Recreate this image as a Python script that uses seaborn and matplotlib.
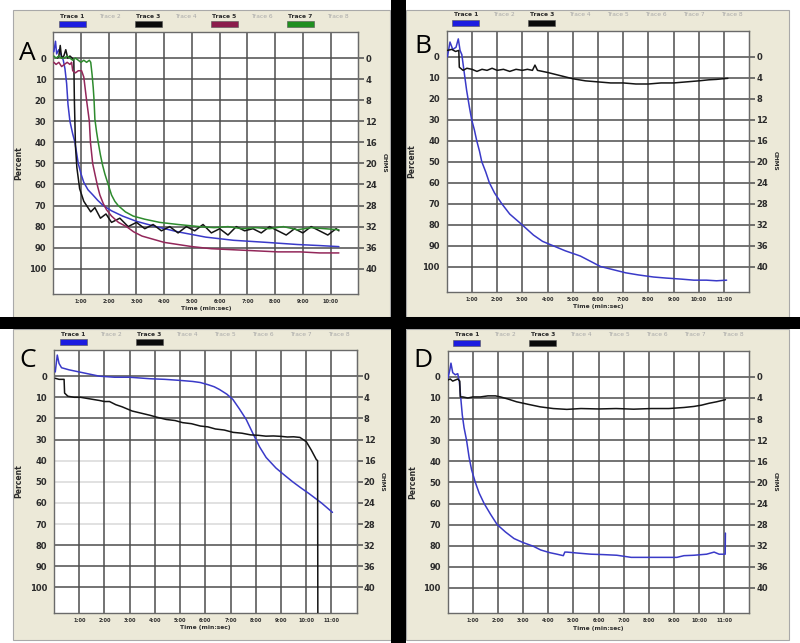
import matplotlib
matplotlib.use("Agg")
import matplotlib.pyplot as plt
from matplotlib.patches import Rectangle
import numpy as np
import pandas as pd
import seaborn as sns

W, H = 800, 643

# ---- values (time in minutes, signal in percent) ----
pct_ticks = [0, 10, 20, 30, 40, 50, 60, 70, 80, 90, 100]
ohm_ticks = [0, 4, 8, 12, 16, 20, 24, 28, 32, 36, 40]
time_labels = ["1:00", "2:00", "3:00", "4:00", "5:00", "6:00",
               "7:00", "8:00", "9:00", "10:00", "11:00"]

# panel A
a_blue_t = [0.02, 0.08, 0.12, 0.20, 0.30, 0.36, 0.42, 0.48, 0.53, 0.60, 0.70, 0.78, 0.90, 1.00, 1.10,
            1.25, 1.43, 1.60, 1.80, 2.10, 2.50, 3.00, 3.70, 4.50, 5.50, 6.50, 7.70, 8.80, 9.60, 10.30]
a_blue_p = [-3, -8, -2, -4, -1, 1, 5, 12, 22, 30, 36, 40, 50, 55, 59,
            62.5, 65, 67.5, 70, 72.5, 75, 77.5, 80, 82.5, 85, 86.5, 87.5, 88.5, 89, 89.5]
a_black_t = [0.15, 0.20, 0.25, 0.30, 0.38, 0.45, 0.52, 0.60, 0.68, 0.74, 0.76, 0.80, 0.85, 0.90, 0.95,
             1.00, 1.10, 1.20, 1.35, 1.50, 1.70, 1.90, 2.10, 2.40, 2.70, 3.00, 3.30, 3.60, 3.90, 4.20,
             4.50, 4.80, 5.10, 5.40, 5.70, 6.00, 6.30, 6.60, 6.90, 7.20, 7.50, 7.80, 8.10, 8.40, 8.70,
             9.00, 9.30, 9.60, 9.90, 10.20, 10.30]
a_black_p = [0, -1, -6, 0, -1, -4, 0, -1, 0, 1, 20, 42, 52, 57, 62,
             64, 68, 70, 73, 71, 76, 74, 78, 76, 80, 78, 81, 79, 82, 80,
             83, 80, 82, 79, 83, 81, 84, 80, 82, 81, 83, 80, 82, 84, 81,
             83, 80, 82, 84, 81, 82]
a_red_t = [0.02, 0.10, 0.20, 0.30, 0.40, 0.50, 0.60, 0.66, 0.70, 0.80, 0.90, 1.02, 1.10, 1.20, 1.30,
           1.34, 1.42, 1.50, 1.60, 1.68, 1.80, 1.92, 2.10, 2.35, 2.64, 2.90, 3.20, 3.60, 4.00, 4.50,
           5.00, 5.70, 6.50, 7.30, 8.10, 8.90, 9.60, 10.30]
a_red_p = [2, 3, 2, 4, 3, 2, 3, 2, 6, 7, 6, 6, 9, 20, 30,
           40, 50, 55, 61, 65, 69, 72, 75, 78, 80, 82.5, 84.5, 86, 87.5, 88.5,
           89.5, 90.5, 91, 91.5, 92, 92, 92.5, 92.5]
a_green_t = [0.02, 0.10, 0.20, 0.30, 0.40, 0.50, 0.60, 0.70, 0.80, 0.90, 1.00, 1.10, 1.20, 1.30, 1.35,
             1.40, 1.44, 1.47, 1.50, 1.56, 1.62, 1.70, 1.78, 1.86, 1.98, 2.10, 2.22, 2.34, 2.60, 2.88,
             3.30, 3.84, 4.50, 5.27, 5.80, 6.30, 6.80, 7.30, 7.80, 8.30, 8.80, 9.30, 9.80, 10.30]
a_green_p = [-1, 0, -1, 0, 0, -1, 0, 1, 0, 1, 2, 1, 2, 1, 2,
             8, 14, 20, 29, 35, 40, 46, 51, 55, 60, 65, 68, 70, 73, 75,
             76.5, 78, 79, 80, 80.5, 80, 81, 80.5, 81, 80, 81.5, 80.5, 81, 81.5]

# panel B
b_blue_t = [0.03, 0.13, 0.24, 0.37, 0.46, 0.53, 0.60, 0.70, 0.79, 0.90, 0.99, 1.10, 1.19, 1.30, 1.39,
            1.55, 1.69, 1.90, 2.18, 2.50, 2.98, 3.44, 3.80, 4.20, 4.70, 5.30, 6.10, 6.60, 7.10, 7.60,
            8.20, 8.70, 9.30, 9.80, 10.30, 10.70, 11.10]
b_blue_p = [0, -7, -3.5, -4.5, -8.5, -3, -1, 8, 16, 24, 30, 35, 40, 45, 50,
            55, 60, 65, 70, 75, 80, 85, 88, 90, 92.5, 95, 100, 101.5, 103, 104,
            105, 105.5, 106, 106.5, 106.5, 106.8, 106.5]
b_black_t = [0.03, 0.20, 0.35, 0.48, 0.50, 0.65, 0.80, 1.00, 1.20, 1.40, 1.60, 1.80, 2.00, 2.25, 2.50,
             2.75, 3.00, 3.20, 3.40, 3.50, 3.60, 3.80, 4.00, 4.50, 5.00, 5.50, 6.00, 6.50, 7.00, 7.50,
             8.00, 8.50, 9.00, 9.50, 10.00, 10.40, 10.70, 11.15]
b_black_p = [-3, -3.5, -2.5, -3, 5, 6.5, 5.5, 6, 7, 6, 6.5, 5.5, 6.5, 6, 7,
             6, 6.5, 6, 6.5, 4, 6.5, 7, 7.5, 9, 10.5, 11.5, 12, 12.5, 12.5, 13,
             13, 12.5, 12.5, 12, 11.5, 11, 10.8, 10.3]

# panel C
c_blue_t = [0.05, 0.13, 0.20, 0.30, 0.60, 1.00, 1.40, 1.80, 2.40, 3.00, 3.80, 4.40, 5.00, 5.50, 5.80,
            6.10, 6.35, 6.56, 6.85, 7.09, 7.35, 7.62, 7.88, 8.15, 8.41, 8.80, 9.10, 9.46, 9.80, 10.10,
            10.60, 11.04]
c_blue_p = [-2, -10, -6, -4, -3, -2, -1, 0, 0.5, 0.5, 1.2, 1.5, 2, 2.5, 3,
            4, 5, 6.3, 8.5, 11, 15.5, 20.5, 27, 33.5, 38.5, 43.5, 46.5, 50, 53, 55.5,
            60, 64.5]
c_black_t = [0.05, 0.20, 0.40, 0.42, 0.55, 0.80, 1.05, 1.30, 1.55, 1.80, 2.00, 2.20, 2.45, 2.70, 2.90,
             3.10, 3.45, 3.80, 4.10, 4.45, 4.80, 5.10, 5.45, 5.80, 6.10, 6.40, 6.75, 7.10, 7.45, 7.80,
             8.10, 8.40, 8.70, 9.00, 9.25, 9.50, 9.75, 10.00, 10.20, 10.40, 10.45, 10.46]
c_black_p = [1, 1.5, 1.5, 8, 9.5, 10, 10, 10.5, 11, 11.5, 12, 12, 13.5, 14.5, 15.5,
             16.5, 17.5, 18.5, 19.5, 20.5, 21, 22, 22.5, 23.6, 24, 25, 25.5, 26.6, 27, 27.8,
             28, 28.4, 28.3, 28.5, 28.8, 28.7, 29, 31, 35, 39.5, 40, 118]

# panel D
d_blue_t = [0.00, 0.08, 0.13, 0.20, 0.30, 0.40, 0.46, 0.52, 0.58, 0.65, 0.75, 0.85, 0.95, 1.10, 1.25,
            1.45, 1.70, 1.97, 2.30, 2.64, 3.00, 3.40, 3.70, 4.07, 4.35, 4.60, 4.66, 4.74, 5.20, 5.70,
            6.20, 6.73, 7.30, 7.90, 8.50, 9.12, 9.40, 9.80, 10.30, 10.60, 10.80, 11.04, 11.05]
d_blue_p = [1, -3, -6.5, -2, -1, -1.5, 2, 10, 18, 24, 30, 38, 44, 50, 55,
            60, 65, 70, 73.5, 76.6, 78.5, 80.2, 82, 83.3, 84, 84.7, 83, 83, 83.5, 84,
            84.2, 84.5, 85.5, 85.5, 85.5, 85.5, 84.7, 84.5, 84, 83, 84, 84, 74]
d_black_t = [0.00, 0.10, 0.20, 0.30, 0.40, 0.48, 0.50, 0.60, 0.80, 1.00, 1.30, 1.60, 1.90, 2.10, 2.40,
             2.74, 3.20, 3.68, 4.20, 4.74, 5.30, 6.00, 6.70, 7.40, 8.10, 8.80, 9.40, 9.80, 10.10, 10.40,
             10.70, 11.05]
d_black_p = [1.5, 1, 2, 1.5, 1, 2, 9.5, 9.5, 10, 9.5, 9.5, 9, 9, 9.5, 10.5,
             11.8, 13, 14.2, 15, 15.4, 15, 15.2, 15, 15.3, 15, 15, 14.5, 14, 13.4, 12.5,
             11.8, 10.8]

# ---- styling ----
BEIGE = "#ECE9D8"
GRID = "#4d4d4d"
FAINT = "#d9d9d9"
TXT = "#2b2b2b"
line_colors = {"Trace 1": "#3a3ac8", "Trace 3": "#141414",
               "Trace 5": "#93275a", "Trace 7": "#2e8b2e"}
bar_colors = {"Trace 1": "#1c1ce0", "Trace 3": "#0a0a0a",
              "Trace 5": "#8b1c4c", "Trace 7": "#1f8f1f"}


def px_rect(x0, y0, x1, y1):
    return [x0 / W, 1 - y1 / H, (x1 - x0) / W, (y1 - y0) / H]


def px_pt(x, y):
    return x / W, 1 - y / H


def draw_panel(fig, box, xmax, traces, letter, letter_xy, faint=()):
    x0, y0, x1, y1 = box
    ax = fig.add_axes(px_rect(x0, y0, x1, y1))
    ax.set_facecolor("white")

    frames = [pd.DataFrame({"time": t, "percent": p, "trace": name}) for name, t, p in traces]
    df = pd.concat(frames, ignore_index=True)
    names = [tr[0] for tr in traces]
    sns.lineplot(data=df, x="time", y="percent", hue="trace", hue_order=names,
                 palette={n: line_colors[n] for n in names}, sort=False, estimator=None,
                 legend=False, linewidth=1.1, ax=ax, zorder=3)

    # grid
    for v in pct_ticks:
        ax.axhline(v, color=FAINT if v in faint else GRID, lw=1.1, zorder=1)
    for m in range(1, xmax):
        ax.axvline(m, color=GRID, lw=1.1, zorder=1)

    ax.set_xlim(0, xmax)
    ax.set_ylim(112, -12.4)
    ax.set_xlabel("")
    ax.set_ylabel("")
    ax.set_xticks(range(1, xmax))
    ax.set_xticklabels(time_labels[:xmax - 1], fontsize=3.6, fontweight="bold", color=TXT)
    ax.tick_params(axis="x", length=0, pad=3.5)
    ax.set_yticks(pct_ticks)
    ax.set_yticklabels([str(v) for v in pct_ticks], fontsize=6, fontweight="bold", color=TXT)
    ax.tick_params(axis="y", length=4, width=1.1, color=GRID, pad=1)
    for s in ax.spines.values():
        s.set_color("#6a6a6a")
        s.set_linewidth(1.0)

    sec = ax.secondary_yaxis("right", functions=(lambda v: v * 0.4, lambda v: v / 0.4))
    sec.set_yticks(ohm_ticks)
    sec.set_yticklabels([str(v) for v in ohm_ticks], fontsize=6, fontweight="bold", color=TXT)
    sec.tick_params(length=4, width=1.1, color=GRID, pad=1)
    sec.spines["right"].set_color("#6a6a6a")

    cy = (y0 + y1) / 2
    fig.text(*px_pt(x0 - 35, cy), "Percent", rotation=90, fontsize=5.5, fontweight="bold",
             color=TXT, ha="center", va="center")
    fig.text(*px_pt(x1 + 26, cy), "OHMS", rotation=270, fontsize=4.2, fontweight="bold",
             color=TXT, ha="center", va="center")
    fig.text(*px_pt((x0 + x1) / 2, y1 + 15), "Time (min:sec)", fontsize=4.3, fontweight="bold",
             color=TXT, ha="center", va="center")

    # trace legend strip
    for i in range(8):
        name = f"Trace {i + 1}"
        cx = x0 + 19 + 38 * i
        active = name in names
        fig.text(*px_pt(cx, y0 - 16), name, fontsize=4.3,
                 fontweight="bold" if active else "normal",
                 color=TXT if active else "#a8a8a8", ha="center", va="center")
        if active:
            fig.patches.append(Rectangle(px_pt(cx - 13.5, y0 - 5), 27 / W, 6 / H,
                                         transform=fig.transFigure, facecolor=bar_colors[name],
                                         edgecolor="#555555", lw=0.4))

    fig.text(*px_pt(*letter_xy), letter, fontsize=19, family="Open Sans",
             color="black", ha="left", va="baseline")
    return ax


sns.set_style("white")
plt.rcParams["font.family"] = ["DejaVu Sans"]

fig = plt.figure(figsize=(W / 100, H / 100), dpi=100)
fig.patch.set_facecolor("white")

# beige panels and the black separators (behind the axes)
for bx in [(13, 10, 390, 317), (406, 10, 789, 317), (13, 329, 391, 640), (406, 329, 789, 640)]:
    r = px_rect(*bx)
    fig.patches.append(Rectangle((r[0], r[1]), r[2], r[3], transform=fig.transFigure,
                                 facecolor=BEIGE, edgecolor="#a9a9a9", lw=0.8, zorder=-2))
for bx in [(391, 0, 406, H), (0, 317, W, 329)]:
    r = px_rect(*bx)
    fig.patches.append(Rectangle((r[0], r[1]), r[2], r[3], transform=fig.transFigure,
                                 facecolor="black", edgecolor="none", zorder=-1))

draw_panel(fig, (53.3, 32, 358.3, 294), 11,
           [("Trace 1", a_blue_t, a_blue_p), ("Trace 3", a_black_t, a_black_p),
            ("Trace 5", a_red_t, a_red_p), ("Trace 7", a_green_t, a_green_p)],
           "A", (19, 60))
draw_panel(fig, (446.7, 30.7, 749.3, 291.7), 12,
           [("Trace 1", b_blue_t, b_blue_p), ("Trace 3", b_black_t, b_black_p)],
           "B", (414, 53))
draw_panel(fig, (54, 350, 356.7, 612.7), 12,
           [("Trace 1", c_blue_t, c_blue_p), ("Trace 3", c_black_t, c_black_p)],
           "C", (19, 367), faint=(40, 50, 60, 70))
draw_panel(fig, (447.7, 350.7, 749.3, 613.3), 12,
           [("Trace 1", d_blue_t, d_blue_p), ("Trace 3", d_black_t, d_black_p)],
           "D", (413, 367))

fig.savefig("out.png", dpi=100, facecolor="white")
